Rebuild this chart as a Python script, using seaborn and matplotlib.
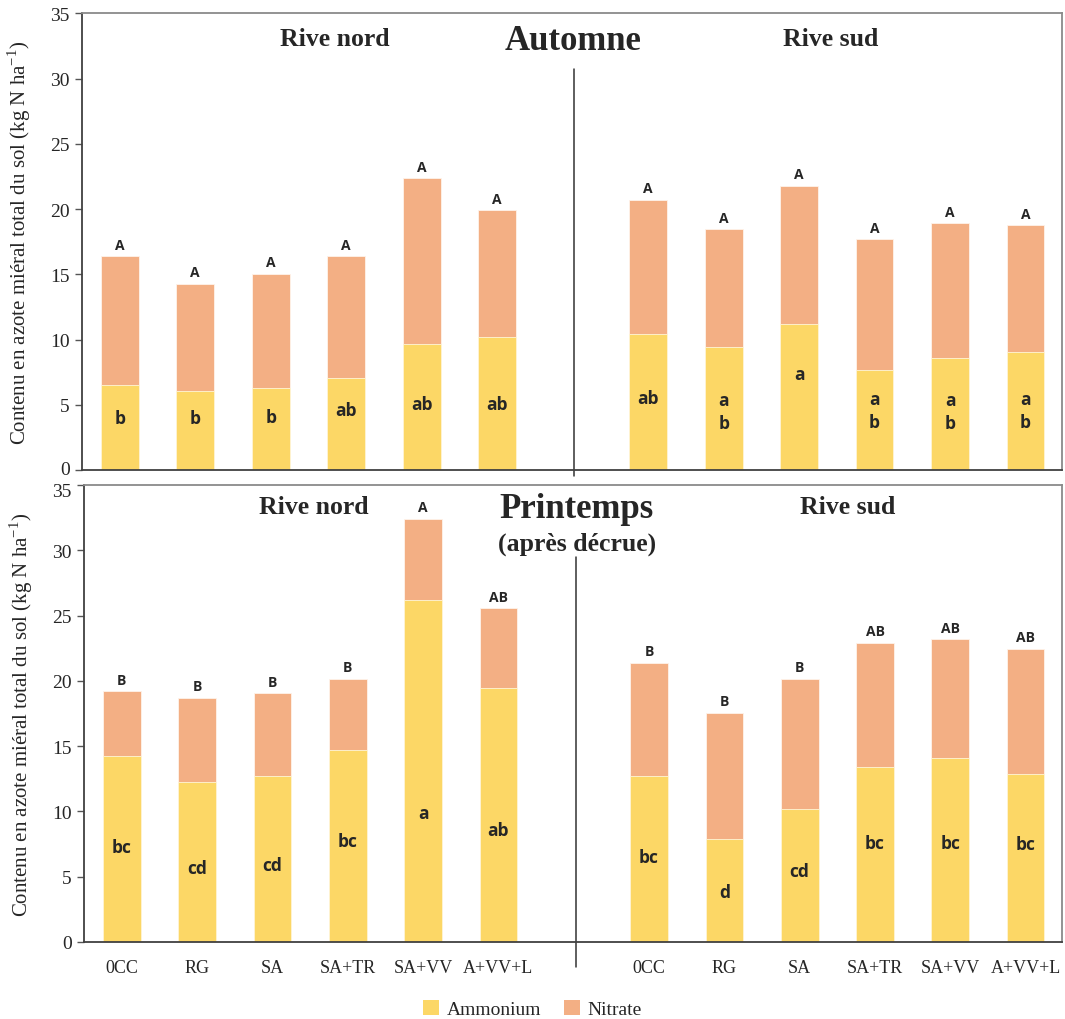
import numpy as np
import pandas as pd
import matplotlib
matplotlib.use("Agg")
import matplotlib.pyplot as plt
import matplotlib.transforms as mtransforms
import seaborn as sns
from matplotlib.patches import Patch

# ---------------- data ----------------
treatments = ["0CC", "RG", "SA", "SA+TR", "SA+VV", "A+VV+L"]

aut_nord_amm = [6.5, 6.05, 6.3, 7.05, 9.7, 10.2]
aut_nord_nit = [9.9, 8.25, 8.75, 9.35, 12.65, 9.7]
aut_sud_amm = [10.4, 9.45, 11.2, 7.7, 8.6, 9.05]
aut_sud_nit = [10.3, 9.0, 10.6, 10.0, 10.3, 9.7]

pri_nord_amm = [14.25, 12.25, 12.7, 14.7, 26.2, 19.45]
pri_nord_nit = [4.95, 6.45, 6.35, 5.45, 6.2, 6.1]
pri_sud_amm = [12.7, 7.9, 10.15, 13.4, 14.1, 12.85]
pri_sud_nit = [8.7, 9.65, 10.0, 9.5, 9.1, 9.6]

aut_nord_upper = ["A", "A", "A", "A", "A", "A"]
aut_nord_lower = ["b", "b", "b", "ab", "ab", "ab"]
aut_sud_upper = ["A", "A", "A", "A", "A", "A"]
aut_sud_lower = ["ab", "a\nb", "a", "a\nb", "a\nb", "a\nb"]
pri_nord_upper = ["B", "B", "B", "B", "A", "AB"]
pri_nord_lower = ["bc", "cd", "cd", "bc", "a", "ab"]
pri_sud_upper = ["B", "B", "B", "AB", "AB", "AB"]
pri_sud_lower = ["bc", "d", "cd", "bc", "bc", "bc"]

# ---------------- layout (annotation placement) ----------------
aut_nord_lower_y = [4.0, 4.0, 4.1, 4.6, 5.1, 5.1]
aut_sud_lower_y = [5.5, 4.5, 7.4, 4.6, 4.5, 4.6]
pri_nord_lower_y = [7.3, 5.7, 5.9, 7.7, 9.9, 8.6]
pri_sud_lower_y = [6.5, 3.8, 5.4, 7.6, 7.6, 7.5]

AMM_COLOR = "#FCD766"
NIT_COLOR = "#F3AF84"

sns.set_theme(style="white")
plt.rcParams["font.family"] = ["Liberation Serif", "DejaVu Serif"]

fig = plt.figure(figsize=(10.65, 10.2), dpi=100)
ax_top = fig.add_axes([0.077, 0.538, 0.920, 0.448])
ax_bot = fig.add_axes([0.079, 0.0755, 0.918, 0.448])

pos_nord = np.arange(6)
pos_sud = np.arange(7, 13)


def draw_panel(ax, nord_amm, nord_nit, sud_amm, sud_nit,
               nord_up, nord_low, sud_up, sud_low, nord_low_y, sud_low_y):
    pos = np.concatenate([pos_nord, pos_sud]).astype(float)
    amm = np.array(nord_amm + sud_amm)
    nit = np.array(nord_nit + sud_nit)
    total = amm + nit
    df = pd.DataFrame({"pos": pos, "total": total, "amm": amm})
    sns.barplot(data=df, x="pos", y="total", color=NIT_COLOR, saturation=1,
                native_scale=True, width=0.5, errorbar=None, ax=ax,
                edgecolor="#FFF3EA", linewidth=0.6)
    sns.barplot(data=df, x="pos", y="amm", color=AMM_COLOR, saturation=1,
                native_scale=True, width=0.5, errorbar=None, ax=ax,
                edgecolor="#FFF6D8", linewidth=0.6)
    ups = nord_up + sud_up
    lows = nord_low + sud_low
    lys = nord_low_y + sud_low_y
    for p, t, u, l, ly in zip(pos, total, ups, lows, lys):
        ax.text(p, t + 0.35, u, ha="center", va="bottom", fontsize=10,
                fontweight="bold", family=["Open Sans", "DejaVu Sans"])
        ax.text(p, ly, l, ha="center", va="center", fontsize=12.5,
                fontweight="bold", family=["Open Sans", "DejaVu Sans"],
                linespacing=1.35)
    ax.set_ylim(0, 35)
    ax.set_xlim(-0.5, 12.48)
    ax.set_yticks(np.arange(0, 36, 5))
    ax.set_ylabel("Contenu en azote miéral total du sol (kg N ha$^{\\mathregular{-1}}$)",
                  fontsize=15, labelpad=12)
    ax.set_xlabel("")
    ax.tick_params(axis="y", labelsize=14, length=5, width=1, color="#555555",
                   direction="out", left=True, pad=4)
    for s in ["left", "bottom"]:
        ax.spines[s].set_color("#404040")
        ax.spines[s].set_linewidth(1.3)
    for s in ["top", "right"]:
        ax.spines[s].set_color("#8a8a8a")
        ax.spines[s].set_linewidth(1.3)


draw_panel(ax_top, aut_nord_amm, aut_nord_nit, aut_sud_amm, aut_sud_nit,
           aut_nord_upper, aut_nord_lower, aut_sud_upper, aut_sud_lower,
           aut_nord_lower_y, aut_sud_lower_y)
draw_panel(ax_bot, pri_nord_amm, pri_nord_nit, pri_sud_amm, pri_sud_nit,
           pri_nord_upper, pri_nord_lower, pri_sud_upper, pri_sud_lower,
           pri_nord_lower_y, pri_sud_lower_y)

ax_top.set_xticks([])
ax_bot.set_xticks(np.concatenate([pos_nord, pos_sud]))
ax_bot.set_xticklabels(treatments + treatments, fontsize=13)
ax_bot.tick_params(axis="x", length=0, pad=12)

# the top panel's "0" and the bottom panel's "35" sit close together:
# nudge them apart by a few pixels only
up = mtransforms.ScaledTranslation(0, 3 / 100, fig.dpi_scale_trans)
down = mtransforms.ScaledTranslation(0, -4 / 100, fig.dpi_scale_trans)
lab0 = ax_top.get_yticklabels()[0]
lab0.set_transform(lab0.get_transform() + up)
lab35 = ax_bot.get_yticklabels()[-1]
lab35.set_transform(lab35.get_transform() + down)

# dividers
ax_top.axvline(6.02, ymin=-0.013, ymax=0.877, color="#333333", lw=1.1, clip_on=False)
ax_bot.axvline(6.03, ymin=-0.055, ymax=0.842, color="#333333", lw=1.1, clip_on=False)

# titles
ax_top.text(0.258, 0.945, "Rive nord", transform=ax_top.transAxes, ha="center",
            va="center", fontsize=18.5, fontweight="bold")
ax_top.text(0.501, 0.940, "Automne", transform=ax_top.transAxes, ha="center",
            va="center", fontsize=25, fontweight="bold")
ax_top.text(0.764, 0.945, "Rive sud", transform=ax_top.transAxes, ha="center",
            va="center", fontsize=18.5, fontweight="bold")
ax_bot.text(0.235, 0.953, "Rive nord", transform=ax_bot.transAxes, ha="center",
            va="center", fontsize=18.5, fontweight="bold")
ax_bot.text(0.504, 0.948, "Printemps", transform=ax_bot.transAxes, ha="center",
            va="center", fontsize=25, fontweight="bold")
ax_bot.text(0.504, 0.873, "(après décrue)", transform=ax_bot.transAxes, ha="center",
            va="center", fontsize=18.5, fontweight="bold")
ax_bot.text(0.781, 0.953, "Rive sud", transform=ax_bot.transAxes, ha="center",
            va="center", fontsize=18.5, fontweight="bold")

handles = [Patch(facecolor=AMM_COLOR, edgecolor="none", label="Ammonium"),
           Patch(facecolor=NIT_COLOR, edgecolor="none", label="Nitrate")]
fig.legend(handles=handles, loc="center", bbox_to_anchor=(0.5, 0.01), ncol=2,
           frameon=False, fontsize=14, handlelength=0.8, handleheight=0.8,
           handletextpad=0.4, columnspacing=1.2)

fig.savefig("out.png", dpi=100)
